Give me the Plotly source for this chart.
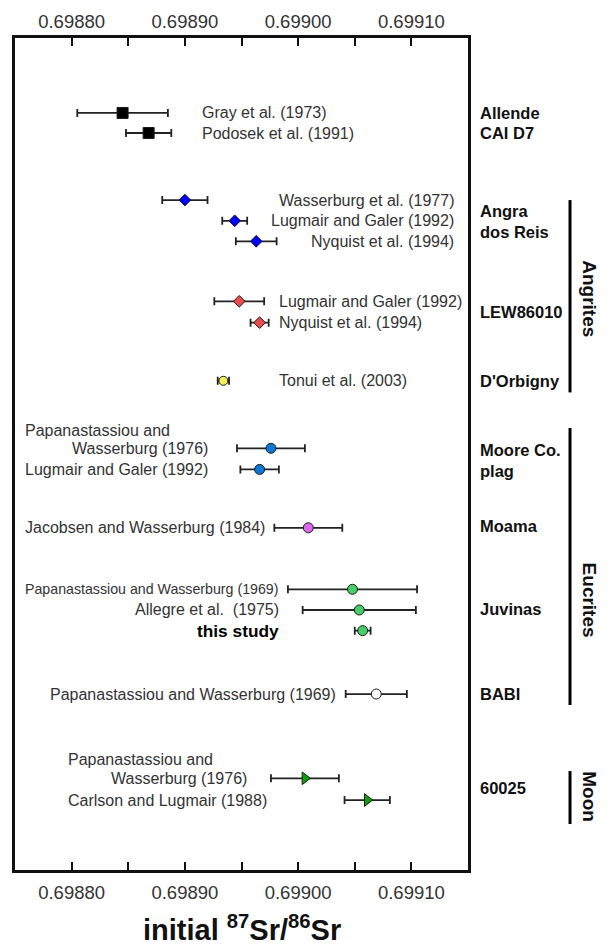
import plotly.graph_objects as go

# ---------------- data ----------------
references = [
    "Gray et al. (1973)", "Podosek et al. (1991)",
    "Wasserburg et al. (1977)", "Lugmair and Galer (1992)", "Nyquist et al. (1994)",
    "Lugmair and Galer (1992)", "Nyquist et al. (1994)",
    "Tonui et al. (2003)",
    "Papanastassiou and Wasserburg (1976)", "Lugmair and Galer (1992)",
    "Jacobsen and Wasserburg (1984)",
    "Papanastassiou and Wasserburg (1969)", "Allegre et al. (1975)", "this study",
    "Papanastassiou and Wasserburg (1969)",
    "Papanastassiou and Wasserburg (1976)", "Carlson and Lugmair (1988)",
]
samples = (["Allende CAI D7"] * 2 + ["Angra dos Reis"] * 3 + ["LEW86010"] * 2
           + ["D'Orbigny"] + ["Moore Co. plag"] * 2 + ["Moama"]
           + ["Juvinas"] * 3 + ["BABI"] + ["60025"] * 2)
sr_initial = [0.698845, 0.698868,
              0.698900, 0.698944, 0.698963,
              0.698948, 0.698966,
              0.698934,
              0.698976, 0.698966,
              0.699009,
              0.699048, 0.699054, 0.699057,
              0.699069,
              0.699006, 0.699061]
sr_err = [0.000040, 0.000020,
          0.000020, 0.000011, 0.000018,
          0.000022, 0.000008,
          0.000005,
          0.000030, 0.000017,
          0.000030,
          0.000057, 0.000050, 0.000007,
          0.000027,
          0.000030, 0.000020]
rows = [3.62, 4.59,
        7.83, 8.83, 9.82,
        12.72, 13.75,
        16.56,
        19.82, 20.84,
        23.66,
        26.63, 27.63, 28.63,
        31.69,
        35.76, 36.81]

x_tick_start = 0.69880
x_tick_step = 0.00010
x_minor_step = 0.00005

sample_labels = ["Allende", "CAI D7", "Angra<br>dos Reis", "LEW86010", "D'Orbigny",
                 "Moore Co.<br>plag", "Moama", "Juvinas", "BABI", "60025"]
sample_label_rows = [3.62, 4.59, 8.88, 13.22, 16.57, 20.4, 23.57, 27.6, 31.69, 36.25]

groups = ["Angrites", "Eucrites", "Moon"]
group_spans = [(7.83, 17.12), (18.84, 32.22), (35.41, 37.97)]
group_text_rows = [12.61, 27.17, 36.67]

# ---------------- styles ----------------
FONT = "Liberation Sans, Arial, sans-serif"
styles = {
    "Allende CAI D7": dict(symbol="square", color="#000000", size=11),
    "Angra dos Reis": dict(symbol="diamond", color="#0000ff", size=9),
    "LEW86010": dict(symbol="diamond", color="#e84c4c", size=9),
    "D'Orbigny": dict(symbol="circle", color="#f5f055", size=9),
    "Moore Co. plag": dict(symbol="circle", color="#0a78d6", size=10),
    "Moama": dict(symbol="circle", color="#dd66ee", size=10),
    "Juvinas": dict(symbol="circle", color="#44cf66", size=10),
    "BABI": dict(symbol="circle", color="#ffffff", size=10),
    "60025": dict(symbol="triangle-right", color="#0a9e0a", size=11),
}

fig = go.Figure()
order = []
for s in samples:
    if s not in order:
        order.append(s)
for s in order:
    idx = [i for i, v in enumerate(samples) if v == s]
    st = styles[s]
    fig.add_trace(go.Scatter(
        x=[sr_initial[i] for i in idx],
        y=[rows[i] for i in idx],
        mode="markers",
        marker=dict(symbol=st["symbol"], color=st["color"], size=st["size"],
                    line=dict(color="#1a1a1a", width=1)),
        error_x=dict(type="data", array=[sr_err[i] for i in idx],
                     color="#222222", thickness=1.8, width=4),
        showlegend=False, hoverinfo="skip",
    ))

# invisible trace for top axis
fig.add_trace(go.Scatter(x=[sr_initial[0]], y=[rows[0]], xaxis="x2", mode="markers",
                         marker=dict(opacity=0), showlegend=False, hoverinfo="skip"))

# ---------------- reference labels ----------------
# (text, x anchor value, row, anchor, size, bold)
ref_labels = [
    (references[0], 0.698913, rows[0], "left", 16, False),
    (references[1], 0.698913, rows[1], "left", 16, False),
    (references[2], 0.699139, rows[2], "right", 16, False),
    (references[3], 0.699139, rows[3], "right", 16, False),
    (references[4], 0.699139, rows[4], "right", 16, False),
    (references[5], 0.698981, rows[5], "left", 16, False),
    (references[6], 0.698981, rows[6], "left", 16, False),
    (references[7], 0.698981, rows[7], "left", 16, False),
    ("Papanastassiou and", 0.698757, 18.94, "left", 16, False),
    ("Wasserburg (1976)", 0.698922, rows[8], "right", 16, False),
    (references[9], 0.698757, rows[9], "left", 16, False),
    (references[10], 0.698757, rows[10], "left", 16, False),
    (references[11], 0.698757, rows[11], "left", 14.2, False),
    ("Allegre et al. &nbsp;(1975)", 0.698985, rows[12], "right", 16, False),
    (references[13], 0.698985, rows[13], "right", 17.3, True),
    (references[14], 0.699035, rows[14], "right", 16, False),
    ("Papanastassiou and", 0.698795, 34.83, "left", 16, False),
    ("Wasserburg (1976)", 0.698957, rows[15], "right", 16, False),
    (references[16], 0.698795, rows[16], "left", 16, False),
]
annotations = []
for text, xv, r, anc, sz, bold in ref_labels:
    annotations.append(dict(
        x=xv, y=r, xref="x", yref="y", xanchor=anc, yanchor="middle",
        text=f"<b>{text}</b>" if bold else text, showarrow=False,
        font=dict(family=FONT, size=sz, color="#000000" if bold else "#333333"),
    ))

for text, r in zip(sample_labels, sample_label_rows):
    annotations.append(dict(
        x=1.022, y=r, xref="paper", yref="y", xanchor="left", yanchor="middle",
        text=f"<b>{text}</b>", showarrow=False, align="left",
        font=dict(family=FONT, size=16.5, color="#111111"),
    ))

shapes = []
for g, (r0, r1), tr in zip(groups, group_spans, group_text_rows):
    shapes.append(dict(type="line", xref="paper", yref="y", x0=1.2252, x1=1.2252,
                       y0=r0, y1=r1, line=dict(color="#000000", width=3)))
    annotations.append(dict(
        x=1.269, y=tr, xref="paper", yref="y", xanchor="center", yanchor="middle",
        text=f"<b>{g}</b>", textangle=90, showarrow=False,
        font=dict(family=FONT, size=19, color="#111111"),
    ))

annotations.append(dict(
    x=0.5, y=-0.0697, xref="paper", yref="paper", xanchor="center", yanchor="middle",
    text="<b>initial <sup>87</sup>Sr/<sup>86</sup>Sr</b>", showarrow=False,
    font=dict(family=FONT, size=29, color="#111111"),
))

axis_common = dict(
    range=[0.69875, 0.69915], tickmode="linear", tick0=x_tick_start, dtick=x_tick_step,
    tickformat=".5f",
    ticks="inside", ticklen=8, tickwidth=2, tickcolor="#111111",
    minor=dict(ticks="inside", dtick=x_minor_step, ticklen=8, tickwidth=2,
               tickcolor="#111111"),
    showgrid=False, zeroline=False, showline=True, linecolor="#111111", linewidth=3,
    tickfont=dict(family=FONT, size=18.5, color="#333333"),
    automargin=False,
)

fig.update_layout(
    width=610, height=949,
    margin=dict(l=15, r=142, t=38, b=79),
    paper_bgcolor="white", plot_bgcolor="white",
    xaxis=dict(**axis_common, side="bottom", ticklabelstandoff=4),
    xaxis2=dict(**axis_common, side="top", overlaying="x"),
    yaxis=dict(range=[40.19, 0], showgrid=False, zeroline=False, showticklabels=False,
               showline=True, mirror=True, linecolor="#111111", linewidth=3),
    annotations=annotations, shapes=shapes,
)

fig.write_html("out.html")
